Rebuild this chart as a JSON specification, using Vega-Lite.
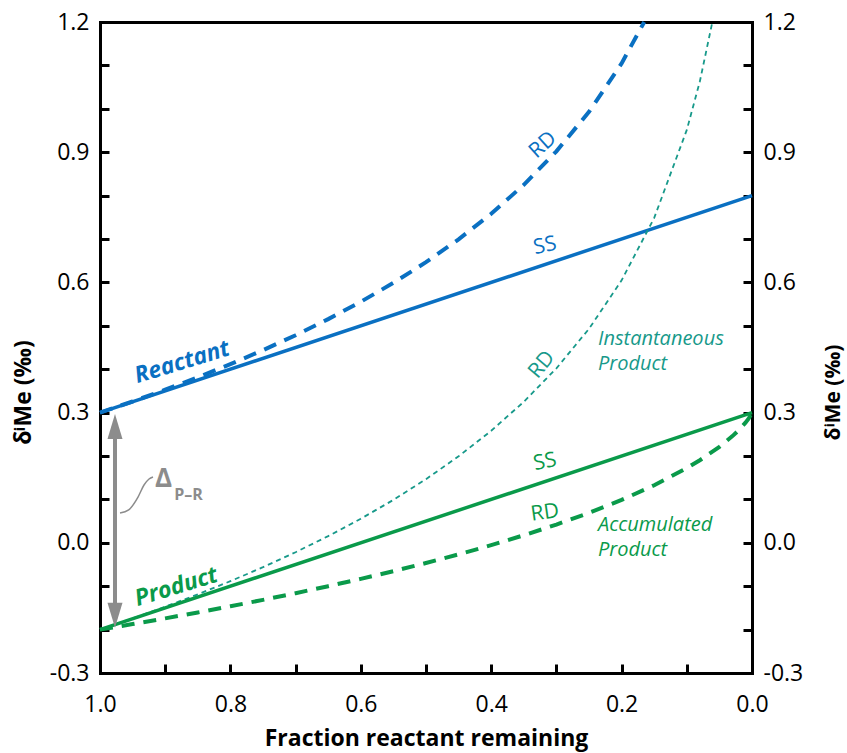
{
  "$schema": "https://vega.github.io/schema/vega-lite/v6.json",
  "width": 652,
  "height": 651,
  "autosize": {"type": "none"},
  "padding": {"left": 100, "top": 22, "right": 95, "bottom": 80},
  "config": {"font": "Open Sans", "view": {"stroke": null}, "axis": {"grid": false}},
  "datasets": {
    "reactSS": [{"f": 1, "d": 0.3}, {"f": 0, "d": 0.8}],
    "prodSS": [{"f": 1, "d": -0.2}, {"f": 0, "d": 0.3}],
    "reactRD": [
      {"f": 1.0, "d": 0.3}, {"f": 0.95, "d": 0.3256}, {"f": 0.9, "d": 0.3527}, {"f": 0.85, "d": 0.3813},
      {"f": 0.8, "d": 0.4116}, {"f": 0.75, "d": 0.4438}, {"f": 0.7, "d": 0.4783}, {"f": 0.65, "d": 0.5154},
      {"f": 0.6, "d": 0.5554}, {"f": 0.55, "d": 0.5989}, {"f": 0.5, "d": 0.6466}, {"f": 0.45, "d": 0.6993},
      {"f": 0.4, "d": 0.7581}, {"f": 0.35, "d": 0.8249}, {"f": 0.3, "d": 0.902}, {"f": 0.25, "d": 0.9931},
      {"f": 0.2, "d": 1.1047}, {"f": 0.1653, "d": 1.2}
    ],
    "prodInst": [
      {"f": 1.0, "d": -0.2}, {"f": 0.95, "d": -0.1744}, {"f": 0.9, "d": -0.1473}, {"f": 0.85, "d": -0.1187},
      {"f": 0.8, "d": -0.0884}, {"f": 0.75, "d": -0.0562}, {"f": 0.7, "d": -0.0217}, {"f": 0.65, "d": 0.0154},
      {"f": 0.6, "d": 0.0554}, {"f": 0.55, "d": 0.0989}, {"f": 0.5, "d": 0.1466}, {"f": 0.45, "d": 0.1993},
      {"f": 0.4, "d": 0.2581}, {"f": 0.35, "d": 0.3249}, {"f": 0.3, "d": 0.402}, {"f": 0.25, "d": 0.4931},
      {"f": 0.2, "d": 0.6047}, {"f": 0.15, "d": 0.7486}, {"f": 0.1, "d": 0.9513}, {"f": 0.08, "d": 1.0629},
      {"f": 0.0608, "d": 1.2}
    ],
    "prodAcc": [
      {"f": 1.0, "d": -0.2}, {"f": 0.95, "d": -0.1873}, {"f": 0.9, "d": -0.1741}, {"f": 0.85, "d": -0.1605},
      {"f": 0.8, "d": -0.1463}, {"f": 0.75, "d": -0.1315}, {"f": 0.7, "d": -0.1161}, {"f": 0.65, "d": -0.1},
      {"f": 0.6, "d": -0.0831}, {"f": 0.55, "d": -0.0653}, {"f": 0.5, "d": -0.0466}, {"f": 0.45, "d": -0.0267},
      {"f": 0.4, "d": -0.0054}, {"f": 0.35, "d": 0.0174}, {"f": 0.3, "d": 0.042}, {"f": 0.25, "d": 0.069},
      {"f": 0.2, "d": 0.0988}, {"f": 0.15, "d": 0.1326}, {"f": 0.1, "d": 0.1721}, {"f": 0.08, "d": 0.1902},
      {"f": 0.05, "d": 0.2212}, {"f": 0.03, "d": 0.2458}, {"f": 0.02, "d": 0.2601}, {"f": 0.01, "d": 0.2767},
      {"f": 0.005, "d": 0.2867}, {"f": 0.0, "d": 0.3}
    ],
    "leader": [
      {"f": 0.9693, "d": 0.0687}, {"f": 0.956, "d": 0.076}, {"f": 0.9417, "d": 0.1055},
      {"f": 0.9325, "d": 0.1332}, {"f": 0.9248, "d": 0.147}, {"f": 0.9187, "d": 0.1516}
    ]
  },
  "resolve": {"axis": {"x": "independent", "y": "independent"}},
  "layer": [
    {
      "data": {"name": "reactSS"},
      "mark": {"type": "line", "color": "#0A70C2", "strokeWidth": 3.5},
      "encoding": {
        "x": {
          "field": "f", "type": "quantitative",
          "scale": {"domain": [0, 1], "reverse": true, "nice": false, "zero": false},
          "axis": {
            "orient": "bottom",
            "values": [0, 0.1, 0.2, 0.3, 0.4, 0.5, 0.6, 0.7, 0.8, 0.9, 1.0],
            "labelExpr": "round(datum.value*10)%2==0 ? format(datum.value,'.1f') : ''",
            "labelFlush": false, "labelOverlap": false,
            "tickSize": -9, "tickWidth": 3, "tickColor": "black",
            "domainColor": "black", "domainWidth": 3, "domainCap": "square",
            "labelFontSize": 23, "labelColor": "black", "labelPadding": 29,
            "title": "Fraction reactant remaining",
            "titleFontSize": 23, "titleFontWeight": "bold", "titleColor": "black",
            "titleBaseline": "alphabetic", "titleY": 72
          }
        },
        "y": {
          "field": "d", "type": "quantitative",
          "scale": {"domain": [-0.3, 1.2], "nice": false, "zero": false},
          "axis": {
            "orient": "left",
            "values": [-0.3, -0.2, -0.1, 0, 0.1, 0.2, 0.3, 0.4, 0.5, 0.6, 0.7, 0.8, 0.9, 1.0, 1.1, 1.2],
            "labelExpr": "round(datum.value*10)%3==0 ? replace(format(datum.value,'.1f'),'\u2212','-') : ''",
            "labelFlush": false, "labelOverlap": false,
            "tickSize": -9, "tickWidth": 3, "tickColor": "black",
            "domainColor": "black", "domainWidth": 3, "domainCap": "square",
            "labelFontSize": 23, "labelColor": "black", "labelPadding": 20,
            "title": "δⁱMe (‰)",
            "titleFontSize": 23, "titleFontWeight": "bold", "titleColor": "black",
            "titleAngle": -90, "titleX": -77, "titleY": 370, "titleBaseline": "middle"
          }
        }
      }
    },
    {
      "data": {"name": "reactSS"},
      "mark": {"type": "line", "opacity": 0},
      "encoding": {
        "x": {
          "field": "f", "type": "quantitative",
          "scale": {"domain": [0, 1], "reverse": true, "nice": false, "zero": false},
          "axis": {
            "orient": "top", "ticks": false, "labels": false, "title": null,
            "domainColor": "black", "domainWidth": 3, "domainCap": "square"
          }
        },
        "y": {
          "field": "d", "type": "quantitative",
          "scale": {"domain": [-0.3, 1.2], "nice": false, "zero": false},
          "axis": {
            "orient": "right",
            "values": [-0.3, -0.2, -0.1, 0, 0.1, 0.2, 0.3, 0.4, 0.5, 0.6, 0.7, 0.8, 0.9, 1.0, 1.1, 1.2],
            "labelExpr": "round(datum.value*10)%3==0 ? replace(format(datum.value,'.1f'),'\u2212','-') : ''",
            "labelFlush": false, "labelOverlap": false,
            "tickSize": -9, "tickWidth": 3, "tickColor": "black",
            "domainColor": "black", "domainWidth": 3, "domainCap": "square",
            "labelFontSize": 23, "labelColor": "black", "labelPadding": 20,
            "title": "δⁱMe (‰)",
            "titleFontSize": 21, "titleFontWeight": "bold", "titleColor": "black",
            "titleAngle": -90, "titleX": 81, "titleY": 370, "titleBaseline": "middle"
          }
        }
      }
    },
    {
      "data": {"name": "reactRD"},
      "mark": {"type": "line", "color": "#0A70C2", "strokeWidth": 4, "strokeDash": [13, 9]},
      "encoding": {"x": {"field": "f", "type": "quantitative", "axis": null}, "y": {"field": "d", "type": "quantitative", "axis": null}}
    },
    {
      "data": {"name": "prodInst"},
      "mark": {"type": "line", "color": "#17998A", "strokeWidth": 1.8, "strokeDash": [5, 4]},
      "encoding": {"x": {"field": "f", "type": "quantitative", "axis": null}, "y": {"field": "d", "type": "quantitative", "axis": null}}
    },
    {
      "data": {"name": "prodAcc"},
      "mark": {"type": "line", "color": "#0A9A4A", "strokeWidth": 4, "strokeDash": [13, 9]},
      "encoding": {"x": {"field": "f", "type": "quantitative", "axis": null}, "y": {"field": "d", "type": "quantitative", "axis": null}}
    },
    {
      "data": {"name": "prodSS"},
      "mark": {"type": "line", "color": "#0A9A4A", "strokeWidth": 3.5},
      "encoding": {"x": {"field": "f", "type": "quantitative", "axis": null}, "y": {"field": "d", "type": "quantitative", "axis": null}}
    },
    {
      "data": {"name": "leader"},
      "mark": {"type": "line", "color": "#8C8C8C", "strokeWidth": 1.5, "interpolate": "monotone"},
      "encoding": {"x": {"field": "f", "type": "quantitative", "axis": null}, "y": {"field": "d", "type": "quantitative", "axis": null}}
    },
    {
      "data": {"values": [{"f": 0.977, "d": 0.245, "d2": -0.14}]},
      "mark": {"type": "rule", "color": "#8C8C8C", "strokeWidth": 4},
      "encoding": {"x": {"field": "f", "type": "quantitative", "axis": null}, "y": {"field": "d", "type": "quantitative", "axis": null}, "y2": {"field": "d2"}}
    },
    {
      "data": {"values": [{"f": 0.977, "d": 0.297}]},
      "mark": {"type": "point", "shape": "M0,0L0.6,2L-0.6,2Z", "size": 625, "filled": true, "color": "#8C8C8C", "opacity": 1},
      "encoding": {"x": {"field": "f", "type": "quantitative", "axis": null}, "y": {"field": "d", "type": "quantitative", "axis": null}}
    },
    {
      "data": {"values": [{"f": 0.977, "d": -0.196}]},
      "mark": {"type": "point", "shape": "M0,0L0.6,-2L-0.6,-2Z", "size": 625, "filled": true, "color": "#8C8C8C", "opacity": 1},
      "encoding": {"x": {"field": "f", "type": "quantitative", "axis": null}, "y": {"field": "d", "type": "quantitative", "axis": null}}
    },
    {
      "data": {"values": [{"f": 0.874, "d": 0.416, "t": "Reactant"}]},
      "mark": {"type": "text", "color": "#0A70C2", "fontSize": 23, "fontWeight": "bold", "fontStyle": "italic", "angle": -17, "align": "center", "baseline": "middle"},
      "encoding": {"x": {"field": "f", "type": "quantitative", "axis": null}, "y": {"field": "d", "type": "quantitative", "axis": null}, "text": {"field": "t"}}
    },
    {
      "data": {"values": [{"f": 0.883, "d": -0.102, "t": "Product"}]},
      "mark": {"type": "text", "color": "#0A9A4A", "fontSize": 23, "fontWeight": "bold", "fontStyle": "italic", "angle": -17, "align": "center", "baseline": "middle"},
      "encoding": {"x": {"field": "f", "type": "quantitative", "axis": null}, "y": {"field": "d", "type": "quantitative", "axis": null}, "text": {"field": "t"}}
    },
    {
      "data": {"values": [{"f": 0.3206, "d": 0.9166, "t": "RD"}]},
      "mark": {"type": "text", "color": "#0A70C2", "fontSize": 21, "angle": -42, "align": "center", "baseline": "middle"},
      "encoding": {"x": {"field": "f", "type": "quantitative", "axis": null}, "y": {"field": "d", "type": "quantitative", "axis": null}, "text": {"field": "t"}}
    },
    {
      "data": {"values": [{"f": 0.3175, "d": 0.684, "t": "SS"}]},
      "mark": {"type": "text", "color": "#0A70C2", "fontSize": 21, "angle": -12, "align": "center", "baseline": "middle"},
      "encoding": {"x": {"field": "f", "type": "quantitative", "axis": null}, "y": {"field": "d", "type": "quantitative", "axis": null}, "text": {"field": "t"}}
    },
    {
      "data": {"values": [{"f": 0.3221, "d": 0.41, "t": "RD"}]},
      "mark": {"type": "text", "color": "#17998A", "fontSize": 21, "angle": -50, "align": "center", "baseline": "middle"},
      "encoding": {"x": {"field": "f", "type": "quantitative", "axis": null}, "y": {"field": "d", "type": "quantitative", "axis": null}, "text": {"field": "t"}}
    },
    {
      "data": {"values": [{"f": 0.3175, "d": 0.186, "t": "SS"}]},
      "mark": {"type": "text", "color": "#0A9A4A", "fontSize": 21, "angle": -12, "align": "center", "baseline": "middle"},
      "encoding": {"x": {"field": "f", "type": "quantitative", "axis": null}, "y": {"field": "d", "type": "quantitative", "axis": null}, "text": {"field": "t"}}
    },
    {
      "data": {"values": [{"f": 0.3175, "d": 0.069, "t": "RD"}]},
      "mark": {"type": "text", "color": "#0A9A4A", "fontSize": 21, "angle": -8, "align": "center", "baseline": "middle"},
      "encoding": {"x": {"field": "f", "type": "quantitative", "axis": null}, "y": {"field": "d", "type": "quantitative", "axis": null}, "text": {"field": "t"}}
    },
    {
      "data": {"values": [{"f": 0.2362, "d": 0.4696, "t": "Instantaneous"}, {"f": 0.2362, "d": 0.412, "t": "Product"}]},
      "mark": {"type": "text", "color": "#17998A", "fontSize": 20, "fontStyle": "italic", "align": "left", "baseline": "middle"},
      "encoding": {"x": {"field": "f", "type": "quantitative", "axis": null}, "y": {"field": "d", "type": "quantitative", "axis": null}, "text": {"field": "t"}}
    },
    {
      "data": {"values": [{"f": 0.2362, "d": 0.041, "t": "Accumulated"}, {"f": 0.2362, "d": -0.0166, "t": "Product"}]},
      "mark": {"type": "text", "color": "#0A9A4A", "fontSize": 20, "fontStyle": "italic", "align": "left", "baseline": "middle"},
      "encoding": {"x": {"field": "f", "type": "quantitative", "axis": null}, "y": {"field": "d", "type": "quantitative", "axis": null}, "text": {"field": "t"}}
    },
    {
      "data": {"values": [{"f": 0.9156, "d": 0.1286, "t": "Δ"}]},
      "mark": {"type": "text", "color": "#8C8C8C", "fontSize": 26, "fontWeight": "bold", "align": "left", "baseline": "alphabetic"},
      "encoding": {"x": {"field": "f", "type": "quantitative", "axis": null}, "y": {"field": "d", "type": "quantitative", "axis": null}, "text": {"field": "t"}}
    },
    {
      "data": {"values": [{"f": 0.886, "d": 0.0986, "t": "P–R"}]},
      "mark": {"type": "text", "color": "#8C8C8C", "fontSize": 16, "fontWeight": "bold", "align": "left", "baseline": "alphabetic"},
      "encoding": {"x": {"field": "f", "type": "quantitative", "axis": null}, "y": {"field": "d", "type": "quantitative", "axis": null}, "text": {"field": "t"}}
    }
  ]
}
